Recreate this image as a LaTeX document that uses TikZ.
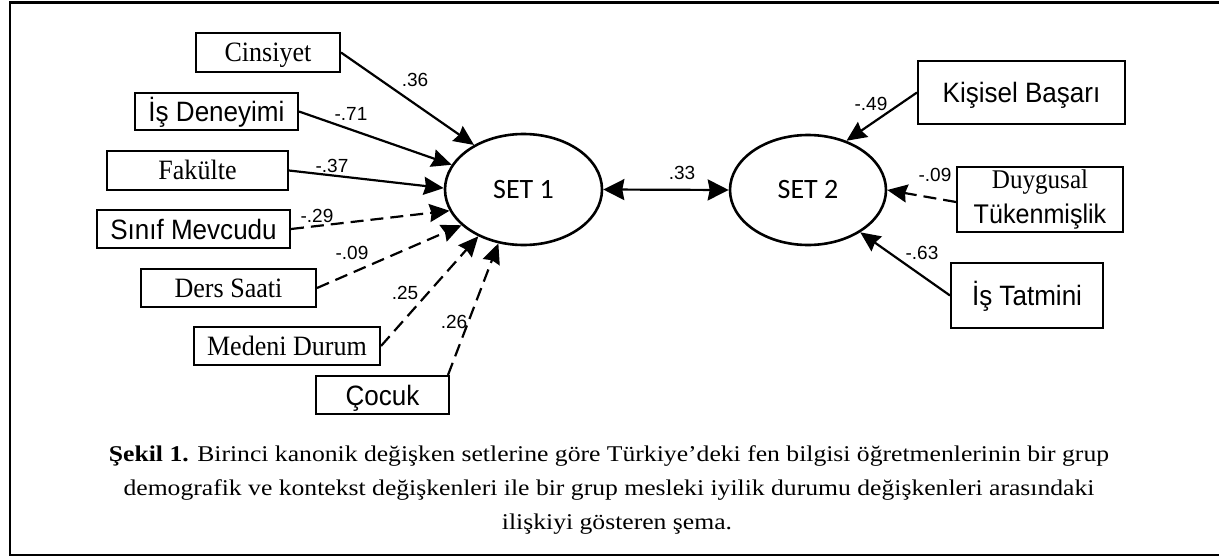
\documentclass[tikz,border=0pt]{standalone}
\usepackage{fontspec}
\setmainfont{Liberation Serif}
\newfontfamily\tnr[FakeStretch=0.93]{Liberation Serif}
\newfontfamily\arn[FakeStretch=0.93]{Liberation Sans}
\newfontfamily\arialf{Liberation Sans}
\newfontfamily\calf{Carlito}
\newfontfamily\capf[FakeStretch=1.14]{Liberation Serif}
\usetikzlibrary{arrows.meta,shapes.geometric}
\begin{document}
\begin{tikzpicture}[x=1pt,y=-1pt,
  box/.style={draw, line width=2pt, inner sep=0pt, text depth=0pt},
  tf/.style={font=\tnr\fontsize{28pt}{32pt}\selectfont, text height=18.5pt},
  af/.style={font=\arn\fontsize{28pt}{32pt}\selectfont, text height=20pt},
  lat/.style={draw, ellipse, line width=2.6pt, inner sep=0pt, font=\calf\fontsize{28pt}{30pt}\selectfont},
  coef/.style={font=\arialf\fontsize{19pt}{20pt}\selectfont, inner sep=0pt},
  conn/.style={line width=2.2pt, -{Stealth[length=20pt,width=18pt,inset=2pt]}},
  dconn/.style={conn, dash pattern=on 13pt off 7pt},
  capt/.style={font=\capf\fontsize{22.5pt}{34pt}\selectfont, inner sep=0pt}
]
\useasboundingbox (0,0) rectangle (1219,557);
% frame
\draw[line width=2.6pt] (1225,2.5) -- (10,2.5) -- (10,555) -- (1225,555);

% latent variables
\node[lat, minimum width=157pt, minimum height=111pt] (s1) at (523.5,189.5) {SET 1};
\node[lat, minimum width=156pt, minimum height=110pt] (s2) at (808,190) {SET 2};

% left boxes
\node[box, tf, minimum width=144pt, minimum height=39pt] (cin) at (268,52.5) {Cinsiyet};
\node[box, af, minimum width=163pt, minimum height=37pt] (isd) at (216.5,111.5) {İş Deneyimi};
\node[box, tf, minimum width=181pt, minimum height=39pt] (fak) at (197.5,170.5) {Fakülte};
\node[box, af, minimum width=193pt, minimum height=38pt] (sin) at (193.5,229) {Sınıf Mevcudu};
\node[box, tf, minimum width=175pt, minimum height=38pt] (der) at (228.5,288) {Ders Saati};
\node[box, tf, minimum width=186pt, minimum height=38pt] (med) at (287,346) {Medeni Durum};
\node[box, af, minimum width=133pt, minimum height=38pt] (coc) at (382.5,395) {Çocuk};

% right boxes
\node[box, af, minimum width=207pt, minimum height=63pt] (kis) at (1021.5,92.5) {Kişisel Başarı};
\node[draw, line width=2pt, inner sep=0pt, minimum width=166pt, minimum height=65pt, align=center,
      font=\tnr\fontsize{27pt}{35pt}\selectfont] (duy) at (1040,199.5) {Duygusal\\{\arn Tükenmişlik}};
\node[box, af, minimum width=152pt, minimum height=65pt] (ist) at (1027,295.5) {İş Tatmini};

% connectors left
\draw[conn] (cin.east) -- (s1.138);
\draw[conn] (isd.east) -- (s1.161);
\draw[conn] (fak.east) -- (s1.179);
\draw[dconn] (sin.east) -- (s1.196);
\draw[dconn] (der.east) -- (s1.210);
\draw[dconn] (med.east) -- (s1.226);
\draw[dconn] ([xshift=-2pt]coc.north east) -- (s1.245);

% connectors right
\draw[conn] (kis.west) -- (s2.52);
\draw[dconn] ([yshift=-2.5pt]duy.west) -- (s2.east);
\draw[conn] (ist.west) -- (s2.321);

% correlation
\draw[line width=2.2pt, {Stealth[length=21pt,width=21pt,inset=2pt]}-{Stealth[length=21pt,width=21pt,inset=2pt]}] (s1.east) -- (s2.west);

% coefficients
\node[coef] (c1) at (415,80) {.36};
\node[coef] (c2) at (351,114) {-.71};
\node[coef] (c3) at (332,166) {-.37};
\node[coef] (c4) at (317,216) {-.29};
\node[coef] (c5) at (352,253) {-.09};
\node[coef] (c6) at (405,293) {.25};
\node[coef] (c7) at (454,322) {.26};
\node[coef] (c8) at (682,173) {.33};
\node[coef] (c9) at (871,104) {-.49};
\node[coef] (c10) at (935,175) {-.09};
\node[coef] (c11) at (922,253) {-.63};

% caption
\node[capt, anchor=base] (cap1) at (609,461) {\textbf{Şekil 1.} Birinci kanonik değişken setlerine göre Türkiye’deki fen bilgisi öğretmenlerinin bir grup};
\node[capt, anchor=base] (cap2) at (609,495) {demografik ve kontekst değişkenleri ile bir grup mesleki iyilik durumu değişkenleri arasındaki};
\node[capt, anchor=base] (cap3) at (617,529) {ilişkiyi gösteren şema.};
\end{tikzpicture}
\end{document}
